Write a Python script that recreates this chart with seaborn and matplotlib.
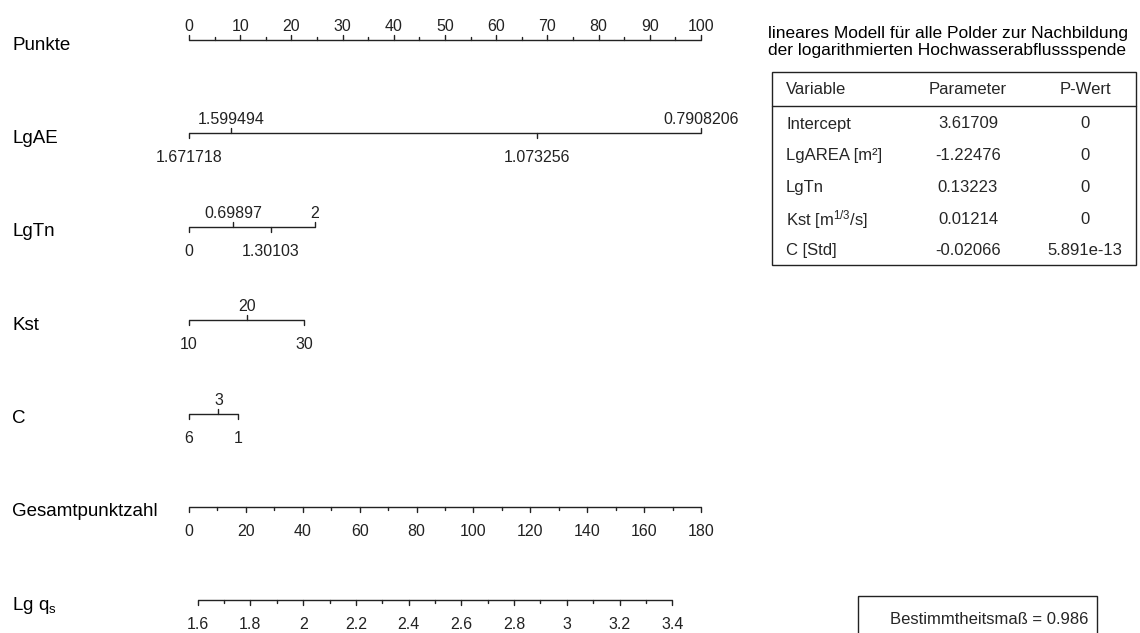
import numpy as np
import matplotlib
matplotlib.use("Agg")
import matplotlib.pyplot as plt
import matplotlib.transforms as mtrans
from matplotlib.patches import Rectangle
import seaborn as sns

# Modellkoeffizienten (lineares Modell)
intercept = 3.61709
coef_lgae = -1.22476
coef_lgtn = 0.13223
coef_kst = 0.01214
coef_c = -0.02066

# Skalenwerte der Nomogramm-Achsen
lgae_values = [1.671718, 1.599494, 1.073256, 0.7908206]
lgae_labels = ["1.671718", "1.599494", "1.073256", "0.7908206"]
lgae_side = ["unten", "oben", "unten", "oben"]

lgtn_values = [0, 0.69897, 1.30103, 2]
lgtn_labels = ["0", "0.69897", "1.30103", "2"]
lgtn_side = ["unten", "oben", "unten", "oben"]

kst_values = [10, 20, 30]
kst_labels = ["10", "20", "30"]
kst_side = ["unten", "oben", "unten"]

c_values = [6, 3, 1]
c_labels = ["6", "3", "1"]
c_side = ["unten", "oben", "unten"]

punkte_major = list(range(0, 101, 10))
punkte_minor = list(range(5, 100, 10))
gesamt_major = list(range(0, 181, 20))
gesamt_minor = list(range(10, 180, 20))
lgqs_major = [1.6, 1.8, 2.0, 2.2, 2.4, 2.6, 2.8, 3.0, 3.2, 3.4]
lgqs_minor = [1.7, 1.9, 2.1, 2.3, 2.5, 2.7, 2.9, 3.1, 3.3]
lgqs_labels = ["1.6", "1.8", "2", "2.2", "2.4", "2.6", "2.8", "3", "3.2", "3.4"]

zeilen = ["Punkte", "LgAE", "LgTn", "Kst", "C", "Gesamtpunktzahl", r"Lg q$_\mathregular{s}$"]

# Tabelle
tab_variable = ["Intercept", "LgAREA [m²]", "LgTn", r"Kst [m$^\mathregular{1/3}$/s]", "C [Std]"]
tab_parameter = ["3.61709", "-1.22476", "0.13223", "0.01214", "-0.02066"]
tab_pwert = ["0", "0", "0", "0", "5.891e-13"]
bestimmtheitsmass = 0.986

titel = "lineares Modell für alle Polder zur Nachbildung\nder logarithmierten Hochwasserabflussspende"

# ============================
# Punkte berechnen
# ============================
effekte = [coef_lgae * np.array(lgae_values), coef_lgtn * np.array(lgtn_values),
           coef_kst * np.array(kst_values), coef_c * np.array(c_values)]
skala = 100 / max(e.max() - e.min() for e in effekte)
punkte = [(e - e.min()) * skala for e in effekte]
lp0 = intercept + sum(e.min() for e in effekte)
gesamt_faktor = 100 / 180  # Gesamtpunktzahl 0..180 auf Breite der Punkteskala
lgqs_pos = (np.array(lgqs_major) - lp0) * skala * gesamt_faktor
lgqs_minor_pos = (np.array(lgqs_minor) - lp0) * skala * gesamt_faktor

# ============================
# Figur
# ============================
sns.set_theme(style="white")
plt.rcParams["font.family"] = ["Liberation Sans", "DejaVu Sans"]
plt.rcParams["mathtext.fontset"] = "custom"
plt.rcParams["mathtext.rm"] = "Liberation Sans"
plt.rcParams["mathtext.it"] = "Liberation Sans:italic"

W, H = 1140, 633
fig = plt.figure(figsize=(W / 100, H / 100), dpi=100)
ax = fig.add_axes([0, 0, 1, 1])
ax.axis("off")

x0_px, px_pro_punkt = 189, 5.12
y0_px, zeile_px = 40, 93.4
ax.set_xlim(-x0_px / px_pro_punkt, (W - x0_px) / px_pro_punkt)
ax.set_ylim((H - y0_px) / zeile_px, -y0_px / zeile_px)

farbe = "#222222"
lw = 1.0
major_len = 5 / zeile_px
minor_len = 3 / zeile_px
fs_tick = 11.5


def off(dy):
    return mtrans.offset_copy(ax.transData, fig=fig, x=0, y=dy, units="dots")


def achse(row, pos, labels, seiten, minor=None):
    ax.plot([min(pos), max(pos)], [row, row], color=farbe, lw=lw, solid_capstyle="butt")
    for p, lab, s in zip(pos, labels, seiten):
        if s == "oben":
            ax.plot([p, p], [row, row - major_len], color=farbe, lw=lw)
            ax.text(p, row, lab, ha="center", va="baseline", fontsize=fs_tick,
                    color=farbe, transform=off(9))
        else:
            ax.plot([p, p], [row, row + major_len], color=farbe, lw=lw)
            ax.text(p, row, lab, ha="center", va="top", fontsize=fs_tick,
                    color=farbe, transform=off(-17))
    if minor is not None:
        d = -minor_len if seiten[0] == "oben" else minor_len
        for p in minor:
            ax.plot([p, p], [row, row + d], color=farbe, lw=lw)


for i, name in enumerate(zeilen):
    ax.text(-x0_px / px_pro_punkt + 12 / px_pro_punkt, i, name, ha="left", va="center",
            fontsize=13.5, color="black", transform=off(-5))

achse(0, punkte_major, [str(v) for v in punkte_major], ["oben"] * len(punkte_major), punkte_minor)
achse(1, punkte[0], lgae_labels, lgae_side)
achse(2, punkte[1], lgtn_labels, lgtn_side)
achse(3, punkte[2], kst_labels, kst_side)
achse(4, punkte[3], c_labels, c_side)
achse(5, [g * gesamt_faktor for g in gesamt_major], [str(v) for v in gesamt_major],
      ["unten"] * len(gesamt_major), [g * gesamt_faktor for g in gesamt_minor])
achse(6, lgqs_pos, lgqs_labels, ["unten"] * len(lgqs_major), lgqs_minor_pos)

# ============================
# Tabelle rechts (Pixelkoordinaten)
# ============================
pix = mtrans.Affine2D().scale(1 / W, -1 / H).translate(0, 1) + fig.transFigure

fig.text(768, 42, titel, transform=pix, ha="left", va="center", fontsize=12.5,
         linespacing=1.15, color="black")

fig.patches.append(Rectangle((772, 72), 364, 193, transform=pix, fill=False,
                             edgecolor=farbe, lw=1.0))
fig.lines.append(plt.Line2D([772, 1136], [106, 106], transform=pix, color=farbe, lw=1.0))

fs_tab = 12
kopf_y = 89
fig.text(786, kopf_y, "Variable", transform=pix, ha="left", va="center", fontsize=fs_tab)
fig.text(968, kopf_y, "Parameter", transform=pix, ha="center", va="center", fontsize=fs_tab)
fig.text(1085, kopf_y, "P-Wert", transform=pix, ha="center", va="center", fontsize=fs_tab)
for k, (v, p, w) in enumerate(zip(tab_variable, tab_parameter, tab_pwert)):
    y = 124 + k * 31.7
    fig.text(786, y, v, transform=pix, ha="left", va="center", fontsize=fs_tab)
    fig.text(968, y, p, transform=pix, ha="center", va="center", fontsize=fs_tab)
    fig.text(1085, y, w, transform=pix, ha="center", va="center", fontsize=fs_tab)

fig.patches.append(Rectangle((858, 596), 239, 60, transform=pix, fill=False,
                             edgecolor=farbe, lw=1.0))
fig.text(1088, 620, f"Bestimmtheitsmaß = {bestimmtheitsmass}", transform=pix,
         ha="right", va="center", fontsize=12)

fig.savefig("out.png", dpi=100)
